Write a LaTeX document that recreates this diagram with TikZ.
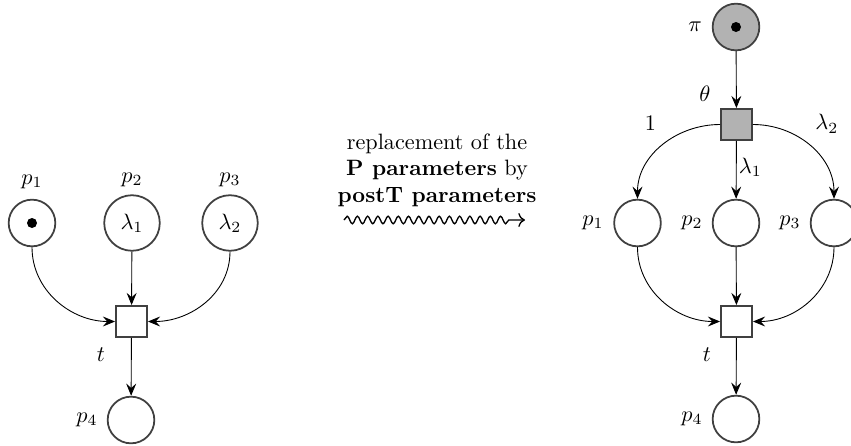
\documentclass[tikz,border=0pt]{standalone}
\usetikzlibrary{arrows.meta,decorations.pathmorphing,positioning}
\begin{document}
\begin{tikzpicture}[x=0.45pt,y=-0.45pt,
  place/.style={circle,draw=black!75,thick,minimum size=21pt,inner sep=0pt},
  bigplace/.style={place,minimum size=25pt},
  trans/.style={rectangle,draw=black!75,thick,minimum size=14pt,inner sep=0pt},
  token/.style={circle,fill=black,inner sep=0pt,minimum size=4.5pt},
  arc/.style={-{Stealth[length=5.5pt,width=4.5pt,inset=2pt]}},
  lbl/.style={inner sep=1pt}]
\useasboundingbox (0,0) rectangle (851,446);
% left net
\node[place] (p1) at (32,223) {};
\node[token] (k1) at (p1.center) {};
\node[bigplace] (p2) at (132,223) {$\lambda_1$};
\node[bigplace] (p3) at (230,223) {$\lambda_2$};
\node[trans] (t) at (131.5,321.5) {};
\node[place] (p4) at (131,420) {};
\node[lbl] (lp1) at (32,182) {$p_1$};
\node[lbl] (lp2) at (132,180) {$p_2$};
\node[lbl] (lp3) at (230,180) {$p_3$};
\node[lbl] (lt) at (101,355) {$t$};
\node[lbl] (lp4) at (87,420) {$p_4$};
\draw[arc] (p1.south) to[out=-90,in=180] (t.west);
\draw[arc] (p2) -- (t);
\draw[arc] (p3.south) to[out=-90,in=0] (t.east);
\draw[arc] (t) -- (p4);
% middle
\node[align=center] (txt) at (437,170) {replacement of the\\ \textbf{P parameters} by\\ \textbf{postT parameters}};
\coordinate (w1) at (344,220);
\coordinate (w2) at (525,220);
\draw[semithick,-{To[length=3pt]},decorate,decoration={snake,amplitude=1.7pt,segment length=4.6pt,post length=6pt}] (w1) -- (w2);
% right net
\node[place,fill=black!30] (pi) at (736,27) {};
\node[token] (k2) at (pi.center) {};
\node[lbl] (lpi) at (695,27) {$\pi$};
\node[trans,fill=black!30] (th) at (736.5,124.5) {};
\node[lbl] (lth) at (705,94) {$\theta$};
\node[place] (q1) at (637.5,223) {};
\node[place] (q2) at (736,223) {};
\node[place] (q3) at (834,223) {};
\node[lbl] (lq1) at (593,223) {$p_1$};
\node[lbl] (lq2) at (692,223) {$p_2$};
\node[lbl] (lq3) at (790,223) {$p_3$};
\node[trans] (rt) at (736.5,321.5) {};
\node[lbl] (lrt) at (707,355) {$t$};
\node[place] (q4) at (736,419) {};
\node[lbl] (lq4) at (692,419) {$p_4$};
\draw[arc] (pi) -- (th);
\draw[arc] (th.west) to[out=180,in=90] node[pos=0.2,lbl,xshift=-20pt,yshift=2pt] (a1) {$1$} (q1.north);
\draw[arc] (th) -- node[right,lbl,pos=0.45] (a2) {$\lambda_1$} (q2);
\draw[arc] (th.east) to[out=0,in=90] node[pos=0.2,lbl,xshift=22pt,yshift=2pt] (a3) {$\lambda_2$} (q3.north);
\draw[arc] (q1.south) to[out=-90,in=180] (rt.west);
\draw[arc] (q2) -- (rt);
\draw[arc] (q3.south) to[out=-90,in=0] (rt.east);
\draw[arc] (rt) -- (q4);
\end{tikzpicture}
\end{document}
